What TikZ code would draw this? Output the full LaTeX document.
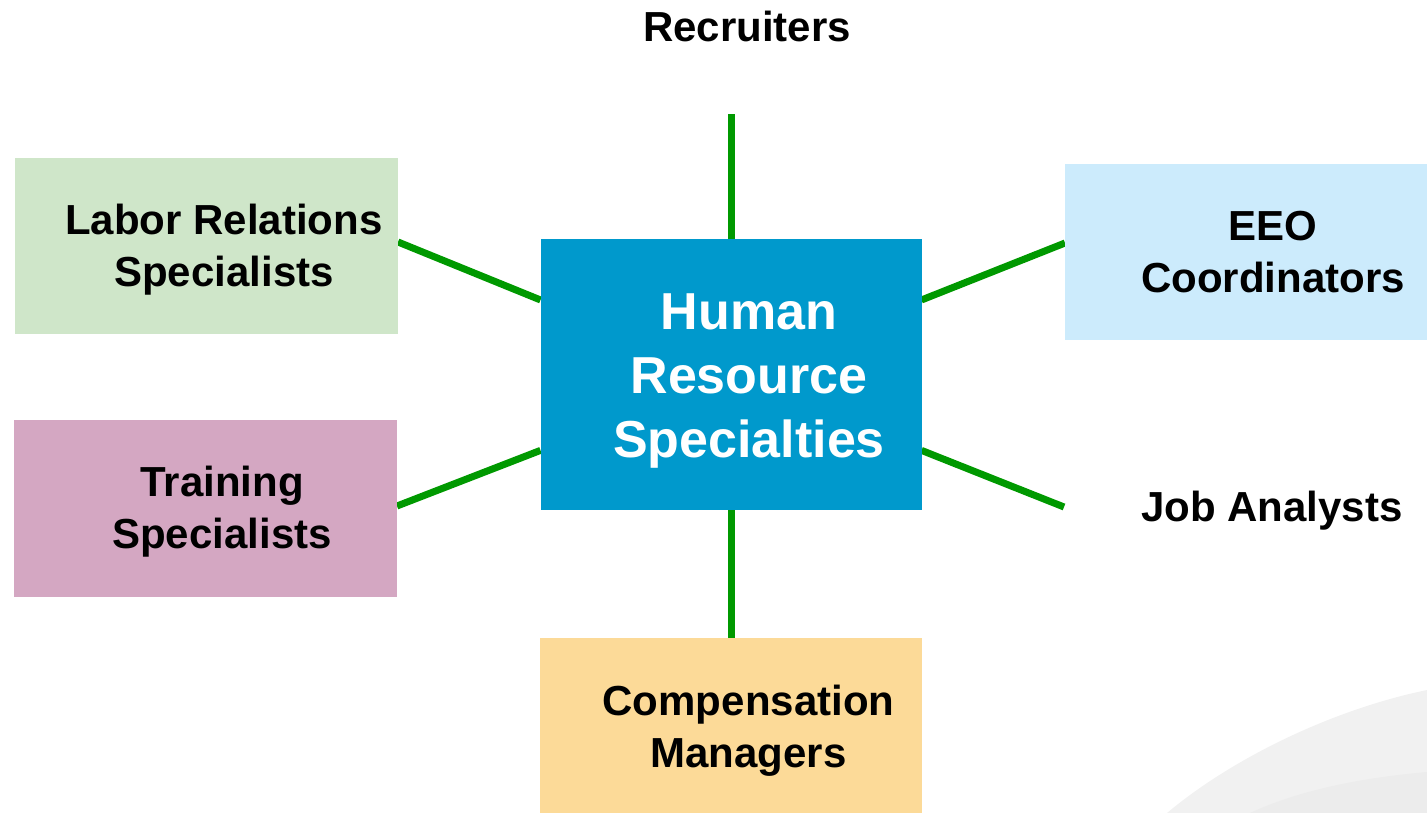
\documentclass[tikz,border=0pt]{standalone}
\usepackage{fontspec}
\setmainfont{Liberation Sans}
\usetikzlibrary{calc,backgrounds}
\definecolor{cHR}{HTML}{0099CC}
\definecolor{cLab}{HTML}{CFE6C9}
\definecolor{cTrn}{HTML}{D4A7C2}
\definecolor{cEEO}{HTML}{CCEBFC}
\definecolor{cComp}{HTML}{FCDA98}
\definecolor{cLine}{HTML}{009900}
\definecolor{cSw1}{HTML}{F1F1F1}
\definecolor{cSw2}{HTML}{ECECEC}
\tikzset{
  box/.style={rectangle, draw=none, inner sep=0pt, outer sep=0pt},
  lbl/.style={inner sep=0pt, align=center, text=black, font=\fontsize{42}{52}\selectfont\bfseries},
  hrlbl/.style={inner sep=0pt, align=center, text=white, font=\fontsize{52}{64}\selectfont\bfseries},
  conn/.style={draw=cLine, line width=7pt, line cap=butt}
}
\begin{document}
\begin{tikzpicture}[x=1pt,y=-1pt]
\useasboundingbox (0,0) rectangle (1427,813);
% boxes
\node[box, fill=cHR, minimum width=381pt, minimum height=271pt] (hr) at (731,374.5) {};
\node[box, fill=cLab, minimum width=383pt, minimum height=176pt] (lab) at (206.5,246) {};
\node[box, fill=cTrn, minimum width=383pt, minimum height=177pt] (trn) at (205.5,508.5) {};
\node[box, fill=cEEO, minimum width=362pt, minimum height=176pt] (eeo) at (1246,252) {};
\node[box, fill=cComp, minimum width=382pt, minimum height=176pt] (comp) at (731,726) {};
\coordinate (rtop) at (731,114);
\coordinate (jaend) at (1064,507);
% texts
\node[hrlbl] (hrt) at (749,381) {Human\\Resource\\Specialties};
\node[lbl] (labt) at (224,250) {Labor Relations\\Specialists};
\node[lbl] (trnt) at (222,512) {Training\\Specialists};
\node[lbl] (eeot) at (1273,252) {EEO\\Coordinators};
\node[lbl] (jat) at (1272,511) {Job Analysts};
\node[lbl] (compt) at (748.5,730.5) {Compensation\\Managers};
\node[lbl] (rect) at (747,26.5) {Recruiters};
% background swoosh and connectors
\begin{scope}[on background layer]
\fill[cSw1] (1167,813) .. controls (1230,760) and (1330,710) .. (1427,690) -- (1427,813) -- cycle;
\fill[cSw2] (1250,813) .. controls (1300,790) and (1360,778) .. (1427,772) -- (1427,813) -- cycle;
\draw[conn] (hr.north) -- (rtop);
\draw[conn] (hr.south) -- (comp.north);
\draw[conn] ($(hr.north west)!0.225!(hr.south west)$) -- ([yshift=4pt]lab.east);
\draw[conn] ($(hr.north west)!0.78!(hr.south west)$) -- ([yshift=2.5pt]trn.east);
\draw[conn] ($(hr.north east)!0.225!(hr.south east)$) -- ([yshift=9pt]eeo.west);
\draw[conn] ($(hr.north east)!0.78!(hr.south east)$) -- (jaend);
\end{scope}
\end{tikzpicture}
\end{document}
